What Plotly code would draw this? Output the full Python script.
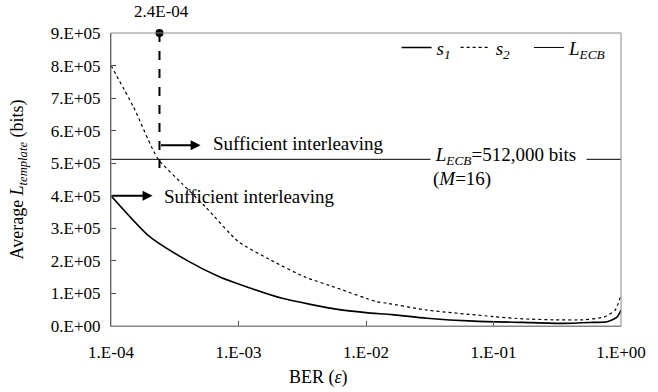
import math
import plotly.graph_objects as go

# ---- data ----
s1_ber = [1e-4, 2e-4, 4e-4, 7e-4, 1e-3, 2.2e-3, 6e-3, 1e-2, 1.6e-2, 3e-2, 7e-2, 0.17, 0.36, 0.6, 0.78, 0.93, 1.0]
s1_len = [400000, 275000, 200000, 152000, 129000, 85000, 51000, 41000, 35000, 24000, 15000, 11000, 8000, 11000, 13000, 27000, 49000]

s2_ber = [1e-4, 1.5e-4, 2.33e-4, 3.6e-4, 5.5e-4, 1e-3, 1.8e-3, 3.3e-3, 6e-3, 1.2e-2, 1.46e-2, 3e-2, 0.1, 0.17, 0.3, 0.5, 0.74, 0.9, 1.0]
s2_len = [800000, 673000, 514000, 438000, 366000, 259000, 202000, 151000, 116000, 75000, 70000, 49000, 29000, 22000, 19000, 19000, 28000, 49000, 95000]

lecb_ber = [1e-4, 1.0]
lecb_len = [512000, 512000]

marker_ber = 2.4e-4
marker_top = 900000
marker_bottom = 463000

x_tickvals = [1e-4, 1e-3, 1e-2, 1e-1, 1.0]
x_ticktext = ["1.E-04", "1.E-03", "1.E-02", "1.E-01", "1.E+00"]
y_tickvals = [0, 100000, 200000, 300000, 400000, 500000, 600000, 700000, 800000, 900000]
y_ticktext = ["0.E+00", "1.E+05", "2.E+05", "3.E+05", "4.E+05", "5.E+05", "6.E+05", "7.E+05", "8.E+05", "9.E+05"]

FONT = "Liberation Serif"
ANN = dict(size=19, color="black", family=FONT)

fig = go.Figure()
fig.add_trace(go.Scatter(x=s1_ber, y=s1_len, mode="lines", name="<i>s</i><sub><i>1</i></sub>",
                         line=dict(color="black", width=1.6, shape="spline", smoothing=0.6)))
fig.add_trace(go.Scatter(x=s2_ber, y=s2_len, mode="lines", name="<i>s</i><sub><i>2</i></sub>\u00a0\u00a0\u00a0",
                         line=dict(color="black", width=1.2, dash="dot", shape="spline", smoothing=0.6)))
fig.add_trace(go.Scatter(x=lecb_ber, y=lecb_len, mode="lines", name="<i>L</i><sub><i>ECB</i></sub>",
                         line=dict(color="black", width=1)))
fig.add_trace(go.Scatter(x=[marker_ber, marker_ber], y=[marker_top, marker_bottom], mode="lines",
                         showlegend=False, line=dict(color="black", width=2, dash="dash")))
fig.add_trace(go.Scatter(x=[marker_ber], y=[marker_top], mode="markers", showlegend=False,
                         cliponaxis=False, marker=dict(color="black", size=8)))

# annotations
fig.add_annotation(x=math.log10(marker_ber), y=marker_top, text="2.4E-04", showarrow=False,
                   yshift=22, xshift=2, font=dict(size=17, color="black", family=FONT))
fig.add_annotation(x=-3.297, y=555000, ax=math.log10(marker_ber), ay=555000, axref="x", ayref="y",
                   xref="x", yref="y", text="", showarrow=True, arrowhead=2, arrowsize=1,
                   arrowwidth=2, arrowcolor="black")
fig.add_annotation(x=-3.215, y=562000, text="Sufficient interleaving", showarrow=False,
                   xanchor="left", font=ANN)
fig.add_annotation(x=-3.674, y=400000, ax=-4, ay=400000, axref="x", ayref="y",
                   xref="x", yref="y", text="", showarrow=True, arrowhead=2, arrowsize=1,
                   arrowwidth=2, arrowcolor="black")
fig.add_annotation(x=-3.60, y=397000, text="Sufficient interleaving", showarrow=False,
                   xanchor="left", font=ANN)
fig.add_annotation(x=-1.50, y=522000, text="\u00a0<i>L</i><sub><i>ECB</i></sub>=512,000 bits\u00a0\u00a0",
                   showarrow=False, xanchor="left", yanchor="middle", align="left",
                   bgcolor="white", borderpad=0, font=ANN)
fig.add_annotation(x=-1.49, y=452000, text="(<i>M</i>=16)",
                   showarrow=False, xanchor="left", yanchor="middle", align="left", font=ANN)
# x axis title
fig.add_annotation(xref="paper", yref="paper", x=(322 - 111) / 518, y=(326 - 392) / 293,
                   yanchor="bottom", yshift=2,
                   text="BER (<i>ε</i>)", showarrow=False, font=dict(size=18, color="black", family=FONT))

# frame
fig.add_shape(type="rect", xref="paper", yref="paper", x0=0, x1=1, y0=0, y1=1,
              line=dict(color="#888888", width=1), layer="above")

fig.update_layout(
    width=658, height=392,
    margin=dict(l=111, r=29, t=33, b=66),
    paper_bgcolor="white", plot_bgcolor="white",
    font=dict(family=FONT, size=17, color="black"),
    showlegend=True,
    legend=dict(orientation="h", x=0.56, y=1.015, xanchor="left", yanchor="top",
                bgcolor="rgba(0,0,0,0)", font=dict(size=19, family=FONT), itemwidth=30),
)
fig.update_xaxes(type="log", range=[-4, 0], tickvals=x_tickvals, ticktext=x_ticktext,
                 ticks="inside", ticklen=5, tickcolor="#555555", showline=True, linecolor="#808080",
                 showgrid=False, zeroline=False, ticklabelstandoff=11,
                 tickfont=dict(family=FONT, size=17))
fig.update_yaxes(range=[0, 900000], tickvals=y_tickvals, ticktext=y_ticktext,
                 ticks="inside", ticklen=5, tickcolor="#444444", showline=True, linecolor="#444444",
                 showgrid=False, zeroline=False, ticklabelstandoff=6,
                 tickfont=dict(family=FONT, size=17),
                 title=dict(text="Average <i>L</i><sub><i>template</i></sub> (bits)",
                            font=dict(size=18, family=FONT), standoff=22))

fig.write_html("out.html")
